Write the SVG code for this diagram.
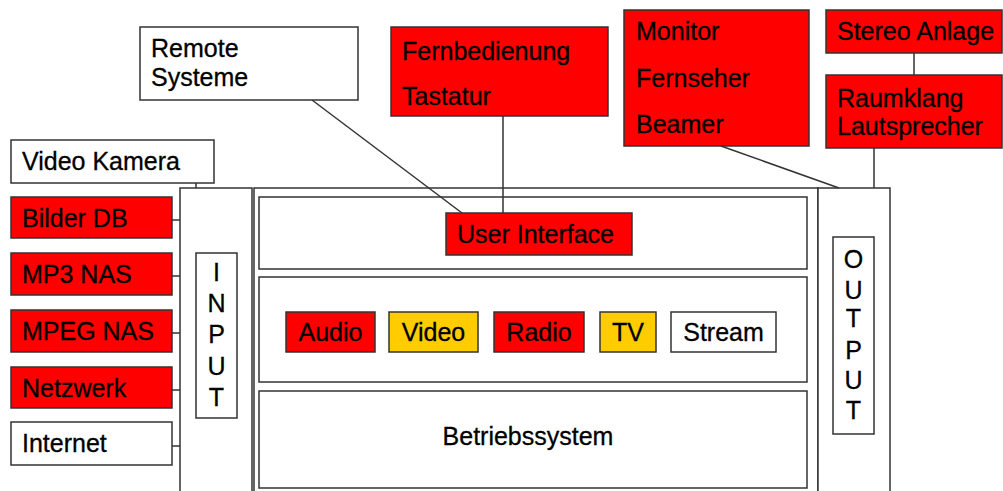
<svg xmlns="http://www.w3.org/2000/svg" width="1003" height="491" viewBox="0 0 1003 491">
<style>
.b{stroke:#333;stroke-width:1.5}
.r{fill:#ff0000}
.y{fill:#ffcc00}
.w{fill:#fff}
text{font-family:"Liberation Sans",Arial,sans-serif;font-size:25px;fill:#000;stroke:#000;stroke-width:0.3}
.c{text-anchor:middle}
.ln{stroke:#333;stroke-width:1.5;fill:none}
</style>
<rect width="1003" height="491" fill="#fff"/>
<g id="frame">
<rect id="input-col" class="b w" x="180" y="188" width="72" height="310"/>
<rect id="mid-col" class="b w" x="254" y="188" width="564" height="310"/>
<rect id="output-col" class="b w" x="818" y="188" width="72" height="310"/>
</g>
<g id="panel-ui"><rect class="b w" x="259" y="197" width="548" height="72"/></g>
<g id="panel-media"><rect class="b w" x="259" y="277" width="548" height="105"/></g>
<g id="panel-os"><rect class="b w" x="259" y="391" width="548" height="97"/><text class="c" x="528" y="445">Betriebssystem</text></g>
<g id="connectors">
<line class="ln" x1="172" y1="220" x2="180" y2="220"/>
<line class="ln" x1="172" y1="276" x2="180" y2="276"/>
<line class="ln" x1="172" y1="333" x2="180" y2="333"/>
<line class="ln" x1="172" y1="390" x2="180" y2="390"/>
<line class="ln" x1="172" y1="446" x2="180" y2="446"/>
<line class="ln" x1="196" y1="183" x2="196" y2="188"/>
<line class="ln" x1="312" y1="100" x2="462" y2="213"/>
<line class="ln" x1="503" y1="116" x2="503" y2="213"/>
<line class="ln" x1="721" y1="146" x2="839" y2="188"/>
<line class="ln" x1="914" y1="53" x2="914" y2="75"/>
<line class="ln" x1="874" y1="148" x2="874" y2="188"/>
</g>
<g id="video-kamera"><rect class="b w" x="11" y="140" width="203" height="43"/><text x="22" y="170">Video Kamera</text></g>
<g id="bilder-db"><rect class="b r" x="11" y="197" width="161" height="41"/><text x="22" y="227">Bilder DB</text></g>
<g id="mp3-nas"><rect class="b r" x="11" y="253" width="161" height="42"/><text x="22" y="283">MP3 NAS</text></g>
<g id="mpeg-nas"><rect class="b r" x="11" y="310" width="161" height="42"/><text x="22" y="340">MPEG NAS</text></g>
<g id="netzwerk"><rect class="b r" x="11" y="367" width="161" height="41"/><text x="22" y="397">Netzwerk</text></g>
<g id="internet"><rect class="b w" x="11" y="422" width="161" height="43"/><text x="22" y="452">Internet</text></g>
<g id="input-label"><rect class="b w" x="196" y="253" width="41" height="165"/>
<text class="c" x="216.5" y="281">I</text><text class="c" x="216.5" y="312">N</text><text class="c" x="216.5" y="343">P</text><text class="c" x="216.5" y="375">U</text><text class="c" x="216.5" y="406">T</text></g>
<g id="output-label"><rect class="b w" x="833" y="237" width="41" height="197"/>
<text class="c" x="853.5" y="268">O</text><text class="c" x="853.5" y="299">U</text><text class="c" x="853.5" y="327">T</text><text class="c" x="853.5" y="359">P</text><text class="c" x="853.5" y="389">U</text><text class="c" x="853.5" y="419">T</text></g>
<g id="remote-systeme"><rect class="b w" x="140" y="27" width="218" height="73"/><text x="151" y="57">Remote</text><text x="151" y="86">Systeme</text></g>
<g id="fernbedienung"><rect class="b r" x="391" y="27" width="217" height="89"/><text x="402" y="60">Fernbedienung</text><text x="402" y="105">Tastatur</text></g>
<g id="monitor"><rect class="b r" x="624" y="10" width="185" height="136"/><text x="636" y="40">Monitor</text><text x="636" y="87">Fernseher</text><text x="636" y="133">Beamer</text></g>
<g id="stereo"><rect class="b r" x="826" y="10" width="176" height="43"/><text x="837" y="40">Stereo Anlage</text></g>
<g id="raumklang"><rect class="b r" x="826" y="75" width="176" height="73"/><text x="837" y="107">Raumklang</text><text x="837" y="135">Lautsprecher</text></g>
<g id="user-interface"><rect class="b r" x="446" y="213" width="186" height="42"/><text x="457" y="243">User Interface</text></g>
<g id="audio"><rect class="b r" x="286" y="312" width="89" height="40"/><text class="c" x="330.5" y="341">Audio</text></g>
<g id="video"><rect class="b y" x="389" y="312" width="89" height="40"/><text class="c" x="433.5" y="341">Video</text></g>
<g id="radio"><rect class="b r" x="494" y="312" width="90" height="40"/><text class="c" x="539" y="341">Radio</text></g>
<g id="tv"><rect class="b y" x="600" y="312" width="56" height="40"/><text class="c" x="628" y="341">TV</text></g>
<g id="stream"><rect class="b w" x="671" y="312" width="105" height="40"/><text class="c" x="723.5" y="341">Stream</text></g>
</svg>
